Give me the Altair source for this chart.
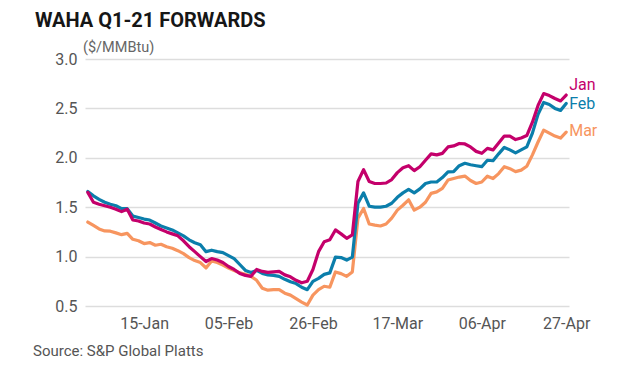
import altair as alt
import pandas as pd

# Trading dates (category axis)
dates = [
    "31-Dec", "02-Jan", "03-Jan", "06-Jan", "07-Jan", "08-Jan", "09-Jan", "10-Jan", "13-Jan", "14-Jan",
    "15-Jan", "16-Jan", "17-Jan", "20-Jan", "21-Jan", "22-Jan", "23-Jan", "24-Jan", "27-Jan", "28-Jan",
    "29-Jan", "30-Jan", "31-Jan", "03-Feb", "04-Feb", "05-Feb", "06-Feb", "07-Feb", "10-Feb", "11-Feb",
    "12-Feb", "13-Feb", "14-Feb", "17-Feb", "18-Feb", "19-Feb", "20-Feb", "21-Feb", "24-Feb", "25-Feb",
    "26-Feb", "27-Feb", "28-Feb", "29-Feb", "02-Mar", "03-Mar", "04-Mar", "05-Mar", "06-Mar", "09-Mar",
    "10-Mar", "11-Mar", "12-Mar", "13-Mar", "16-Mar", "17-Mar", "18-Mar", "19-Mar", "20-Mar", "23-Mar",
    "24-Mar", "25-Mar", "26-Mar", "27-Mar", "30-Mar", "31-Mar", "01-Apr", "02-Apr", "03-Apr", "05-Apr",
    "06-Apr", "07-Apr", "08-Apr", "09-Apr", "10-Apr", "13-Apr", "14-Apr", "15-Apr", "16-Apr", "17-Apr",
    "20-Apr", "21-Apr", "22-Apr", "23-Apr", "24-Apr", "27-Apr",
]

jan = [
    1.65, 1.55, 1.53, 1.515, 1.50, 1.48, 1.455, 1.48, 1.37, 1.36,
    1.34, 1.33, 1.30, 1.275, 1.25, 1.23, 1.21, 1.16, 1.10, 1.05,
    1.00, 0.95, 0.98, 0.965, 0.94, 0.90, 0.87, 0.83, 0.81, 0.80,
    0.87, 0.85, 0.84, 0.845, 0.85, 0.815, 0.795, 0.76, 0.735, 0.75,
    0.87, 1.05, 1.15, 1.17, 1.27, 1.23, 1.185, 1.22, 1.76, 1.88,
    1.76, 1.74, 1.74, 1.745, 1.78, 1.85, 1.90, 1.92, 1.87, 1.91,
    1.975, 2.04, 2.03, 2.045, 2.11, 2.12, 2.145, 2.14, 2.11, 2.065,
    2.045, 2.095, 2.08, 2.15, 2.22, 2.22, 2.185, 2.20, 2.225, 2.36,
    2.53, 2.65, 2.63, 2.60, 2.575, 2.635,
]

feb = [
    1.66, 1.615, 1.58, 1.55, 1.53, 1.515, 1.485, 1.485, 1.41, 1.395,
    1.38, 1.37, 1.34, 1.31, 1.29, 1.27, 1.24, 1.21, 1.17, 1.14,
    1.12, 1.05, 1.065, 1.05, 1.04, 1.01, 0.98, 0.92, 0.86, 0.84,
    0.86, 0.83, 0.815, 0.81, 0.80, 0.77, 0.745, 0.727, 0.69, 0.665,
    0.75, 0.78, 0.82, 0.835, 0.995, 0.99, 0.965, 0.995, 1.54, 1.645,
    1.51, 1.50, 1.50, 1.51, 1.54, 1.60, 1.645, 1.68, 1.645, 1.685,
    1.74, 1.755, 1.756, 1.80, 1.857, 1.86, 1.92, 1.945, 1.93, 1.92,
    1.91, 1.975, 1.97, 2.04, 2.105, 2.08, 2.05, 2.08, 2.11, 2.25,
    2.44, 2.56, 2.54, 2.50, 2.48, 2.55,
]

mar = [
    1.35, 1.315, 1.28, 1.26, 1.257, 1.24, 1.222, 1.235, 1.175, 1.16,
    1.132, 1.142, 1.115, 1.125, 1.10, 1.085, 1.06, 1.03, 0.99, 0.96,
    0.94, 0.885, 0.955, 0.94, 0.915, 0.885, 0.86, 0.835, 0.82, 0.80,
    0.76, 0.68, 0.66, 0.665, 0.665, 0.63, 0.61, 0.575, 0.54, 0.51,
    0.61, 0.665, 0.70, 0.69, 0.845, 0.828, 0.80, 0.845, 1.39, 1.487,
    1.33, 1.318, 1.31, 1.33, 1.39, 1.47, 1.52, 1.575, 1.47, 1.50,
    1.55, 1.64, 1.655, 1.69, 1.775, 1.79, 1.805, 1.815, 1.77, 1.74,
    1.755, 1.814, 1.79, 1.84, 1.91, 1.89, 1.86, 1.875, 1.915, 2.03,
    2.16, 2.28, 2.25, 2.22, 2.20, 2.26,
]

tick_dates = ["15-Jan", "05-Feb", "26-Feb", "17-Mar", "06-Apr", "27-Apr"]
y_ticks = [0.5, 1.0, 1.5, 2.0, 2.5, 3.0]
series_names = ["Jan", "Feb", "Mar"]
series_values = {"Jan": jan, "Feb": feb, "Mar": mar}
colors = ["#C4006B", "#0B7EAB", "#F7955F"]
label_dy = {"Jan": -10, "Feb": 1, "Mar": -1}

title_text = "WAHA Q1-21 FORWARDS"
unit_text = "($/MMBtu)"
source_text = "Source: S&P Global Platts"

FONT = "Roboto"

rows = []
for s in series_names:
    for i, (d, v) in enumerate(zip(dates, series_values[s])):
        rows.append({"date": d, "idx": i, "series": s, "value": v})
df = pd.DataFrame(rows)

x_enc = alt.X(
    "date:O",
    scale=alt.Scale(type="point", domain=dates, padding=0.5),
    axis=alt.Axis(
        values=tick_dates, title=None, labelAngle=0, ticks=False, domain=False,
        grid=False, labelPadding=9, labelFont=FONT, labelFontSize=16,
        labelColor="#555555",
    ),
)
y_enc = alt.Y(
    "value:Q",
    scale=alt.Scale(domain=[0.5, 3.0], nice=False, zero=False),
    axis=alt.Axis(
        values=y_ticks, format=".1f", title=None, ticks=False, domain=False,
        grid=True, gridColor="#DDDDDD", gridWidth=1.3, labelPadding=8,
        labelFont=FONT, labelFontSize=16, labelColor="#555555",
    ),
)
color_enc = alt.Color(
    "series:N", scale=alt.Scale(domain=series_names, range=colors), legend=None
)

layers = []
for s in ["Mar", "Feb", "Jan"]:
    layers.append(
        alt.Chart(df)
        .transform_filter(alt.datum.series == s)
        .mark_line(strokeWidth=3.2, strokeJoin="round", strokeCap="round")
        .encode(x=x_enc, y=y_enc, color=color_enc, order=alt.Order("idx:Q"))
    )

last = df[df["date"] == dates[-1]]
for s in series_names:
    layers.append(
        alt.Chart(last[last["series"] == s])
        .mark_text(align="left", baseline="middle", dx=3, dy=label_dy[s],
                   font=FONT, fontSize=16)
        .encode(x=x_enc, y=y_enc, color=color_enc, text="series:N")
    )

layers.append(
    alt.Chart(pd.DataFrame({"t": [title_text]}))
    .mark_text(align="left", baseline="alphabetic", font=FONT, fontSize=20,
               fontWeight="bold", color="#161616")
    .encode(x=alt.value(-50), y=alt.value(-32), text="t:N")
)
layers.append(
    alt.Chart(pd.DataFrame({"t": [unit_text]}))
    .mark_text(align="left", baseline="middle", font=FONT, fontSize=14.5,
               color="#666666")
    .encode(x=alt.value(-2), y=alt.value(-11), text="t:N")
)
layers.append(
    alt.Chart(pd.DataFrame({"t": [source_text]}))
    .mark_text(align="left", baseline="middle", font=FONT, fontSize=15,
               color="#555555")
    .encode(x=alt.value(-52), y=alt.value(292), text="t:N")
)

chart = (
    alt.layer(*layers)
    .properties(
        width=484,
        height=247,
        autosize=alt.AutoSizeParams(type="none"),
        padding={"left": 77, "top": 51, "right": 55, "bottom": 54},
    )
    .configure_view(stroke=None)
)

chart.save("out.html", embed_options={"renderer": "svg", "actions": False})
